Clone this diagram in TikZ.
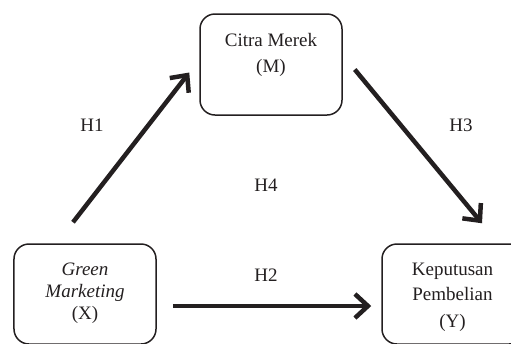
\documentclass[tikz,border=0pt]{standalone}
\usepackage{fontspec}
\setmainfont{Liberation Serif}
\usetikzlibrary{arrows.meta}
\definecolor{ink}{HTML}{231F20}
\begin{document}
\begin{tikzpicture}[x=1bp,y=-1bp,
  box/.style={draw=ink, line width=1.5bp, rounded corners=15bp, minimum width=142bp, inner sep=0pt},
  txt/.style={anchor=base, inner sep=0pt, text=ink, font=\fontsize{19bp}{24bp}\selectfont},
  arr/.style={draw=ink, line width=4.5bp, -{Straight Barb[length=13bp,width=24bp,line width=4.5bp]}}]
\useasboundingbox (0,0) rectangle (511,343);
% boxes
\node[box, minimum height=101bp] (M) at (271,64.5) {};
\node[box, minimum height=100bp] (X) at (85,294) {};
\node[box, minimum height=100bp] (Y) at (453,294) {};
% texts
\node[txt] (m1) at (271,46) {Citra Merek};
\node[txt] (m2) at (271,72) {(M)};
\node[txt] (x1) at (85,275) {\itshape Green};
\node[txt] (x2) at (85,297) {\itshape Marketing};
\node[txt] (x3) at (85,319) {(X)};
\node[txt] (y1) at (452.5,275) {Keputusan};
\node[txt] (y2) at (452.5,300) {Pembelian};
\node[txt] (y3) at (452.5,327) {(Y)};
% hypothesis labels
\node[txt] (h1) at (92,131) {H1};
\node[txt] (h3) at (461,131) {H3};
\node[txt] (h4) at (266,191) {H4};
\node[txt] (h2) at (266,281) {H2};
% connector end points
\coordinate (a1) at ([xshift=-12bp,yshift=21bp]X.north);
\coordinate (b1) at ([xshift=-10bp,yshift=-8bp]M.west);
\coordinate (a3) at ([xshift=12bp,yshift=-5bp]M.east);
\coordinate (b3) at ([xshift=29bp,yshift=20bp]Y.north);
\coordinate (a2) at ([xshift=16bp,yshift=-12bp]X.east);
\coordinate (b2) at ([xshift=-10bp,yshift=-12bp]Y.west);
\draw[arr] (a1) -- (b1);
\draw[arr] (a3) -- (b3);
\draw[arr] (a2) -- (b2);
\end{tikzpicture}
\end{document}
